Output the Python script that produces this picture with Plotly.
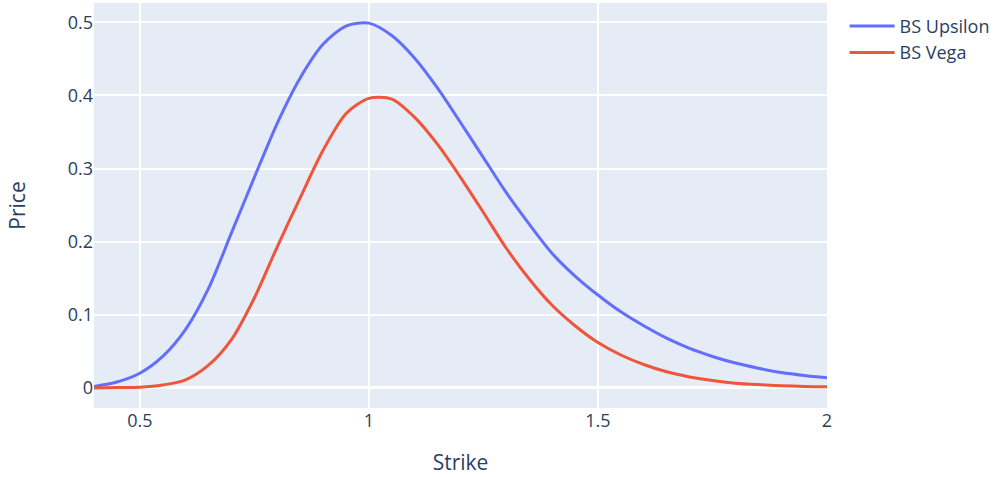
import plotly.graph_objects as go

strike = [0.40, 0.45, 0.50, 0.55, 0.60, 0.65, 0.70, 0.75, 0.80, 0.85, 0.90, 0.95,
          1.00, 1.05, 1.10, 1.15, 1.20, 1.25, 1.30, 1.35, 1.40, 1.45, 1.50, 1.55,
          1.60, 1.65, 1.70, 1.75, 1.80, 1.85, 1.90, 1.95, 2.00]

bs_upsilon = [0.002, 0.008, 0.020, 0.043, 0.080, 0.136, 0.212, 0.288, 0.362, 0.424,
              0.470, 0.495, 0.499, 0.482, 0.451, 0.410, 0.363, 0.315, 0.267, 0.224,
              0.184, 0.153, 0.127, 0.104, 0.085, 0.068, 0.054, 0.043, 0.034, 0.027,
              0.021, 0.017, 0.014]

bs_vega = [0.000, 0.0005, 0.001, 0.004, 0.011, 0.031, 0.066, 0.123, 0.193, 0.260,
           0.325, 0.375, 0.396, 0.395, 0.370, 0.333, 0.288, 0.240, 0.191, 0.149,
           0.113, 0.085, 0.062, 0.045, 0.032, 0.022, 0.015, 0.010, 0.0065, 0.0045,
           0.003, 0.002, 0.0015]

fig = go.Figure()
fig.add_trace(go.Scatter(x=strike, y=bs_upsilon, mode="lines", name="BS Upsilon",
                         line=dict(width=3, shape="spline", smoothing=0.8)))
fig.add_trace(go.Scatter(x=strike, y=bs_vega, mode="lines", name="BS Vega",
                         line=dict(width=3, shape="spline", smoothing=0.8)))

fig.update_layout(
    template="plotly",
    width=1003,
    height=477,
    font=dict(family='"Open Sans", verdana, arial, sans-serif', size=18, color="#2a3f5f"),
    margin=dict(l=94, r=176, t=3, b=69),
    legend=dict(font=dict(size=18), itemwidth=45, tracegroupgap=0,
                x=1.024, y=0.988, xanchor="left", yanchor="top"),
    xaxis=dict(title=dict(text="Strike", font=dict(size=21), standoff=24),
               range=[0.4, 2.0], dtick=0.5, tick0=0, gridwidth=1.5),
    yaxis=dict(title=dict(text="Price", font=dict(size=21), standoff=36),
               range=[-0.0275, 0.5265], dtick=0.1, tick0=0, gridwidth=1.5,
               zerolinewidth=3),
)

fig.write_html("out.html",
               config={"displayModeBar": False},
               post_script="document.body.style.margin='0';document.body.style.overflow='hidden';")
